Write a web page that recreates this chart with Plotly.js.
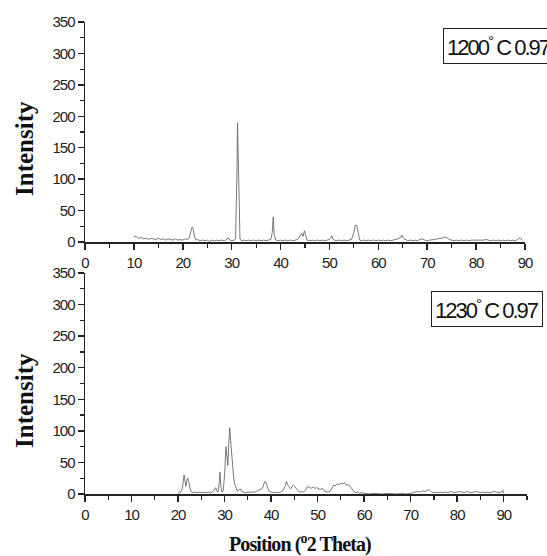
<!DOCTYPE html>
<html>
<head>
<meta charset="utf-8">
<script src="https://cdn.plot.ly/plotly-3.0.1.min.js"></script>
<style>
html,body{margin:0;padding:0;background:#fff;}
#chart{width:547px;height:556px;}
g.xtick text, g.ytick text, g.x2tick text, g.y2tick text { letter-spacing: -1px; }
text.annotation-text[style*="Liberation Sans"] { letter-spacing: -2px; }
text.annotation-text[style*="font-size: 20px"] { letter-spacing: -0.9px; }
</style>
</head>
<body>
<div id="chart"></div>
<script>
// Sample 1200 °C 0.97 (top panel)
const x1200 = [10,10.2,10.5,11,11.5,12,12.5,13,13.5,14,14.5,15,15.5,16,16.5,17,17.5,18,18.5,19,19.5,20,20.5,21,21.3,21.6,21.9,22.1,22.4,22.7,23,23.5,24,24.5,25,25.5,26,26.5,27,27.5,28,28.5,29,29.3,29.6,30,30.5,30.8,31.0,31.1,31.2,31.3,31.4,31.5,31.7,32,32.5,33,33.5,34,34.5,35,35.5,36,36.5,37,37.5,38,38.3,38.5,38.7,39,39.5,40,40.5,41,41.5,42,42.5,43,43.5,44,44.3,44.6,44.9,45.1,45.4,46,46.5,47,47.5,48,48.5,49,49.5,50,50.3,50.5,50.7,51,51.5,52,52.5,53,53.5,54,54.5,55,55.3,55.6,55.9,56.2,56.5,57,57.5,58,58.5,59,59.5,60,60.5,61,61.5,62,62.5,63,63.5,64,64.5,64.8,65.1,65.5,66,66.5,67,67.5,68,68.5,69,69.5,70,70.5,71,71.5,72,72.5,73,73.5,74,74.5,75,75.5,76,76.5,77,77.5,78,78.5,79,79.5,80,80.5,81,81.5,82,82.5,83,83.5,84,84.5,85,85.5,86,86.5,87,87.5,88,88.5,89,89.5,89.8,90];
const y1200 = [10,8,9,6,7,5,6,4,6,5,4,6,4,5,3,5,4,3,5,3,4,3,5,4,6,14,24,22,8,3,4,2,3,2,3,1,3,2,3,2,3,2,4,7,3,2,3,5,70,120,190,150,90,30,5,2,3,2,3,2,3,2,3,2,3,2,3,4,15,40,12,3,2,3,2,3,2,3,2,3,4,10,14,9,18,12,3,2,3,2,3,2,3,2,3,4,7,10,5,3,2,3,2,3,2,3,4,15,27,26,12,3,2,3,2,3,2,3,2,3,2,3,2,3,2,3,3,5,7,11,6,4,2,3,2,3,2,4,5,3,2,3,3,4,5,5,6,8,7,4,3,2,3,2,3,2,3,2,3,3,2,3,2,3,4,3,2,3,2,3,2,3,2,3,2,3,2,4,7,2];

// Sample 1230 °C 0.97 (bottom panel)
const x1230 = [20,20.3,20.6,20.9,21.1,21.3,21.5,21.7,21.9,22.1,22.3,22.6,22.9,23.2,23.5,24,24.5,25,25.5,26,26.5,27,27.5,27.8,28.1,28.3,28.6,28.8,29.0,29.2,29.4,29.7,30.0,30.3,30.5,30.7,30.9,31.1,31.3,31.5,31.7,31.9,32.2,32.5,32.8,33.1,33.4,33.7,34,34.5,35,35.5,36,36.5,37,37.5,38,38.3,38.6,38.9,39.2,39.5,40,40.5,41,41.5,42,42.5,43,43.3,43.6,43.9,44.2,44.5,44.8,45.1,45.4,45.8,46.2,46.6,47,47.4,47.8,48.2,48.6,49,49.4,49.8,50.2,50.6,51,51.4,51.8,52.2,52.6,53,53.4,53.8,54.2,54.6,55,55.4,55.8,56.2,56.6,57,57.4,57.8,58.2,58.6,59,59.5,60,60.5,61,62,63,64,65,66,67,68,69,70,70.5,71,71.5,72,72.5,73,73.5,74,74.5,75,75.5,76,76.5,77,77.5,78,78.5,79,79.5,80,80.5,81,81.5,82,82.5,83,83.5,84,84.5,85,85.5,86,86.5,87,87.5,88,88.5,89,89.5,89.8,90];
const y1230 = [1,2,3,8,22,30,20,12,22,25,20,8,3,2,3,2,3,2,3,2,3,2,4,8,10,5,3,15,35,12,3,5,30,75,60,45,80,105,85,60,45,30,15,8,4,7,8,4,3,2,3,3,4,3,5,6,8,12,20,18,12,5,3,2,3,2,3,5,12,20,14,10,8,12,14,12,8,5,3,4,3,6,12,10,9,11,9,10,8,7,9,5,4,3,4,8,14,13,16,15,17,16,18,14,15,12,8,4,2,3,1,2,1,1,0,1,0,0,1,0,0,1,0,1,2,3,4,3,5,4,6,7,3,2,3,2,3,2,3,2,4,3,2,3,4,3,2,4,3,2,3,4,3,2,3,2,3,2,3,4,3,2,3,6,1];

const xTicks = [0,10,20,30,40,50,60,70,80,90];
const yTicks = [0,50,100,150,200,250,300,350];
const labelTop = '1200<sup>°</sup> C 0.97';
const labelBottom = '1230<sup>°</sup> C 0.97';
const yTitle = 'Intensity';
const xTitle = 'Position (<sup>o</sup>2 Theta)';

const W = 547, H = 556;
const tickFont = {family: '"Liberation Sans", Arial, sans-serif', size: 15, color: '#222'};
const titleFont = {family: '"Liberation Serif", "Times New Roman", serif', size: 25, color: '#111', weight: 'bold'};
const boxFont = {family: '"Liberation Sans", Arial, sans-serif', size: 22, color: '#111'};

function xax(domain, range) {
  return {domain: domain, range: range, tickmode: 'array', tickvals: xTicks, ticktext: xTicks.map(String),
    ticks: 'outside', ticklen: 6, tickwidth: 1.5, tickcolor: '#222',
    minor: {dtick: 5, tick0: 0, ticks: 'outside', ticklen: 4, tickwidth: 1.2, tickcolor: '#222', showgrid: false},
    showline: true, linecolor: '#222', linewidth: 1.5, showgrid: false, zeroline: false,
    tickfont: tickFont, fixedrange: true};
}
function yax(domain) {
  return {domain: domain, range: [0, 350], tickmode: 'array', tickvals: yTicks, ticktext: yTicks.map(String),
    ticks: 'outside', ticklen: 6, tickwidth: 1.5, tickcolor: '#222',
    minor: {dtick: 25, tick0: 0, ticks: 'outside', ticklen: 4, tickwidth: 1.2, tickcolor: '#222', showgrid: false},
    showline: true, linecolor: '#222', linewidth: 1.5, showgrid: false, zeroline: false,
    tickfont: tickFont, fixedrange: true};
}

const traces = [
  {x: x1200, y: y1200, type: 'scatter', mode: 'lines', line: {color: '#6a6a6a', width: 0.9}, xaxis: 'x', yaxis: 'y', hoverinfo: 'skip'},
  {x: x1230, y: y1230, type: 'scatter', mode: 'lines', line: {color: '#6a6a6a', width: 0.9}, xaxis: 'x2', yaxis: 'y2', hoverinfo: 'skip'}
];

const layout = {
  width: W, height: H, margin: {l: 0, r: 0, t: 0, b: 0},
  paper_bgcolor: '#fff', plot_bgcolor: 'rgba(0,0,0,0)', showlegend: false,
  xaxis: xax([85/W, 525/W], [0, 90]),
  yaxis: yax([314/H, 534/H]),
  xaxis2: Object.assign(xax([85/W, 527/W], [0, 95]), {anchor: 'y2'}),
  yaxis2: Object.assign(yax([62/H, 283/H]), {anchor: 'x2'}),
  annotations: [
    {xref: 'paper', yref: 'paper', x: 24/W, y: 1 - 149/H, text: yTitle, textangle: -90, showarrow: false, font: titleFont, xanchor: 'center', yanchor: 'middle'},
    {xref: 'paper', yref: 'paper', x: 24/W, y: 1 - 401/H, text: yTitle, textangle: -90, showarrow: false, font: titleFont, xanchor: 'center', yanchor: 'middle'},
    {xref: 'paper', yref: 'paper', x: 300/W, y: 1 - 543/H, text: xTitle, showarrow: false, font: Object.assign({}, titleFont, {size: 20}), xanchor: 'center', yanchor: 'middle'},
    {xref: 'paper', yref: 'paper', x: 443/W, y: 1 - 28/H, text: labelTop, showarrow: false, xanchor: 'left', yanchor: 'top',
      font: boxFont, bordercolor: '#222', borderwidth: 1, borderpad: 3, bgcolor: '#fff'},
    {xref: 'paper', yref: 'paper', x: 431/W, y: 1 - 291/H, text: labelBottom, showarrow: false, xanchor: 'left', yanchor: 'top',
      font: boxFont, bordercolor: '#222', borderwidth: 1, borderpad: 3, bgcolor: '#fff'}
  ]
};

Plotly.newPlot('chart', traces, layout, {staticPlot: true, displayModeBar: false});
</script>
</body>
</html>
